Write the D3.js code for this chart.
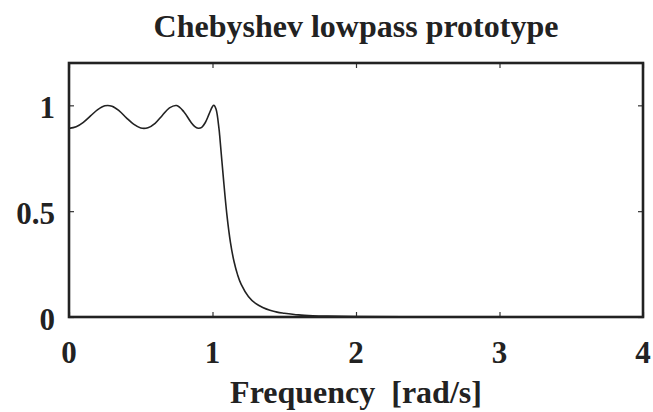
<!DOCTYPE html>
<html>
<head>
<meta charset="utf-8">
<script src="https://cdn.jsdelivr.net/npm/d3@7"></script>
<style>
  body { margin: 0; background: #fff; }
  text { font-family: 'Liberation Serif', 'Times New Roman', serif; font-weight: bold; fill: #222; }
</style>
</head>
<body>
<script>
// values
var freq = [0, 0.05, 0.1, 0.15, 0.2, 0.25, 0.3, 0.35, 0.4, 0.45, 0.5, 0.55, 0.6, 0.65, 0.7, 0.75,
  0.8, 0.85, 0.875, 0.9, 0.925, 0.95, 0.975, 1.0, 1.01, 1.025, 1.045, 1.05, 1.075, 1.1, 1.125,
  1.15, 1.175, 1.2, 1.25, 1.3, 1.35, 1.4, 1.45, 1.5, 1.6, 1.7, 1.8, 2.0, 2.5, 3.0, 3.5, 4.0];
var gain = [0.891, 0.899, 0.920, 0.950, 0.980, 0.998, 0.996, 0.974, 0.941, 0.911, 0.893, 0.894,
  0.915, 0.952, 0.988, 0.999, 0.970, 0.920, 0.901, 0.892, 0.896, 0.919, 0.957, 0.995, 1.000,
  0.981, 0.891, 0.858, 0.663, 0.485, 0.353, 0.262, 0.199, 0.154, 0.097, 0.064, 0.045, 0.032,
  0.023, 0.018, 0.010, 0.006, 0.004, 0.002, 0.0003, 0, 0, 0];

var xTicks = [0, 1, 2, 3, 4];
var yTicks = [0, 0.5, 1];
var yTickLabels = ['0', '0.5', '1'];

var width = 653;
var height = 412;
// plot box (note: 'top' is reserved on window, so use plot* names)
var plotLeft = 69, plotRight = 643, plotTop = 63, plotBottom = 317;

var svg = d3.select('body').append('svg')
  .attr('width', width)
  .attr('height', height);

var x = d3.scaleLinear().domain([0, 4]).range([plotLeft, plotRight]);
var y = d3.scaleLinear().domain([0, 1.2]).range([plotBottom, plotTop]);

// response curve
var line = d3.line()
  .x(function(d) { return x(d[0]); })
  .y(function(d) { return y(d[1]); })
  .curve(d3.curveCatmullRom);

svg.append('path')
  .datum(d3.zip(freq, gain))
  .attr('d', line)
  .attr('fill', 'none')
  .attr('stroke', '#222')
  .attr('stroke-width', 1.6);

// inward ticks on all four sides
var tickLen = 5;
svg.append('g')
  .attr('transform', 'translate(0,' + plotBottom + ')')
  .call(d3.axisBottom(x).tickValues(xTicks).tickSizeInner(-tickLen).tickSizeOuter(0).tickFormat(''));
svg.append('g')
  .attr('transform', 'translate(0,' + plotTop + ')')
  .call(d3.axisTop(x).tickValues(xTicks).tickSizeInner(-tickLen).tickSizeOuter(0).tickFormat(''));
svg.append('g')
  .attr('transform', 'translate(' + plotLeft + ',0)')
  .call(d3.axisLeft(y).tickValues(yTicks).tickSizeInner(-tickLen).tickSizeOuter(0).tickFormat(''));
svg.append('g')
  .attr('transform', 'translate(' + plotRight + ',0)')
  .call(d3.axisRight(y).tickValues(yTicks).tickSizeInner(-tickLen).tickSizeOuter(0).tickFormat(''));

svg.selectAll('.domain').remove();
svg.selectAll('.tick line').attr('stroke', '#333').attr('stroke-width', 1.2);

// frame
svg.append('rect')
  .attr('x', plotLeft)
  .attr('y', plotTop)
  .attr('width', plotRight - plotLeft)
  .attr('height', plotBottom - plotTop)
  .attr('fill', 'none')
  .attr('stroke', '#222')
  .attr('stroke-width', 2.6);

// tick labels
svg.selectAll('.xlab')
  .data(xTicks)
  .enter().append('text')
  .attr('class', 'xlab')
  .attr('x', function(d) { return x(d); })
  .attr('y', 363)
  .attr('text-anchor', 'middle')
  .style('font-size', '31px')
  .text(function(d) { return d; });

svg.selectAll('.ylab')
  .data(yTicks)
  .enter().append('text')
  .attr('class', 'ylab')
  .attr('x', 55)
  .attr('y', function(d) { return y(d) + 13; })
  .attr('text-anchor', 'end')
  .style('font-size', '31px')
  .text(function(d, i) { return yTickLabels[i]; });

// titles
svg.append('text')
  .attr('x', (plotLeft + plotRight) / 2)
  .attr('y', 37)
  .attr('text-anchor', 'middle')
  .style('font-size', '32px')
  .text('Chebyshev lowpass prototype');

svg.append('text')
  .attr('x', (plotLeft + plotRight) / 2)
  .attr('y', 403)
  .attr('text-anchor', 'middle')
  .style('font-size', '32px')
  .style('white-space', 'pre')
  .text('Frequency  [rad/s]');
</script>
</body>
</html>
